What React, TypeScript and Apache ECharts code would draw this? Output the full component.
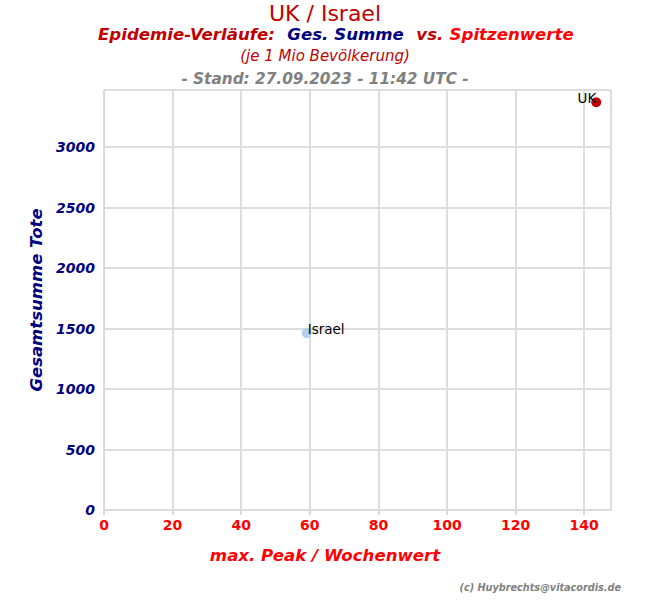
import React, { useEffect, useRef } from "react";
import * as echarts from "echarts";

const countries = ["UK", "Israel"];
const peakValues = [143.5, 59.1];
const totalDeaths = [3372, 1463];
const pointColors = ["#c00000", "#b3cfee"];
const labelSides = ["left", "right"];

const xTicksInterval = 20;
const yTicksInterval = 500;

const FONT = "DejaVu Sans";

export default function App() {
  const ref = useRef<HTMLDivElement>(null);
  useEffect(() => {
    if (!ref.current) return;
    const chart = echarts.init(ref.current, undefined, { renderer: "svg" });
    const data = countries.map((c, i) => ({
      name: c,
      value: [peakValues[i], totalDeaths[i]],
      itemStyle: { color: pointColors[i], opacity: 1 },
      label: {
        show: true,
        formatter: c,
        position: labelSides[i],
        distance: 0,
        offset: i === 0 ? [5, -4] : [-4, -4],
        color: "#000",
        fontSize: 13.5,
        fontFamily: FONT,
      },
    }));
    chart.setOption({
      animation: false,
      backgroundColor: "#fff",
      textStyle: { fontFamily: FONT },
      title: [
        {
          text: "UK / Israel",
          left: "center",
          top: -3,
          textStyle: { color: "#c00000", fontSize: 22, fontWeight: "normal", fontFamily: FONT },
        },
        {
          text: "{a|Epidemie-Verläufe:}  {b|Ges. Summe}  {a|vs.} {c|Spitzenwerte}",
          left: 93,
          top: 20,
          textStyle: {
            rich: {
              a: { color: "#c00000", fontSize: 16.6, fontWeight: "bold", fontStyle: "italic", fontFamily: FONT },
              b: { color: "#000080", fontSize: 16.6, fontWeight: "bold", fontStyle: "italic", fontFamily: FONT },
              c: { color: "#ff0000", fontSize: 16.6, fontWeight: "bold", fontStyle: "italic", fontFamily: FONT },
            },
          },
        },
        {
          text: "(je 1 Mio Bevölkerung)",
          left: "center",
          top: 43,
          textStyle: { color: "#c00000", fontSize: 15, fontWeight: "normal", fontStyle: "italic", fontFamily: FONT },
        },
        {
          text: "- Stand: 27.09.2023 - 11:42 UTC -",
          left: "center",
          top: 66,
          textStyle: { color: "#808080", fontSize: 15.3, fontWeight: "bold", fontStyle: "italic", fontFamily: FONT },
        },
        {
          text: "(c) Huybrechts@vitacordis.de",
          right: 24,
          top: 577,
          textStyle: { color: "#808080", fontSize: 9.7, fontWeight: "bold", fontStyle: "italic", fontFamily: FONT },
        },
      ],
      graphic: [
        {
          type: "text",
          x: 325,
          y: 555,
          style: {
            text: "max. Peak / Wochenwert",
            fill: "#ff0000",
            font: `italic bold 16.6px "${FONT}"`,
            textAlign: "center",
            textVerticalAlign: "middle",
          },
        },
      ],
      grid: { left: 104, right: 39, top: 90, bottom: 90, show: true, borderColor: "#dddddd", borderWidth: 1 },
      xAxis: {
        type: "value",
        min: 0,
        max: (v: any) => v.max * 1.03,
        interval: xTicksInterval,
        axisLine: { show: true, lineStyle: { color: "#d8d8d8", width: 1 } },
        axisTick: { show: true, length: 5, lineStyle: { color: "#d8d8d8", width: 2 } },
        axisLabel: {
          showMaxLabel: false,
          color: "#ff0000",
          fontSize: 14,
          fontWeight: "bold",
          fontFamily: FONT,
          margin: 8,
        },
        splitLine: { show: true, lineStyle: { color: "#dddddd", width: 2 } },
      },
      yAxis: {
        type: "value",
        min: 0,
        max: (v: any) => v.max * 1.03,
        interval: yTicksInterval,
        name: "Gesamtsumme Tote",
        nameLocation: "middle",
        nameGap: 51,
        nameTextStyle: { color: "#000080", fontSize: 16.5, fontWeight: "bold", fontStyle: "italic", fontFamily: FONT },
        axisLine: { show: true, lineStyle: { color: "#d8d8d8", width: 1 } },
        axisTick: { show: false },
        axisLabel: {
          showMaxLabel: false,
          formatter: (v: number) => String(v),
          color: "#000080",
          fontSize: 14,
          fontWeight: "bold",
          fontStyle: "italic",
          fontFamily: FONT,
          margin: 9,
        },
        splitLine: { show: true, lineStyle: { color: "#dddddd", width: 2 } },
      },
      series: [
        {
          type: "scatter",
          symbolSize: 10,
          data,
        },
      ],
    });
    return () => chart.dispose();
  }, []);
  return <div ref={ref} style={{ width: 650, height: 600, position: "absolute", left: 0, top: 0 }} />;
}
